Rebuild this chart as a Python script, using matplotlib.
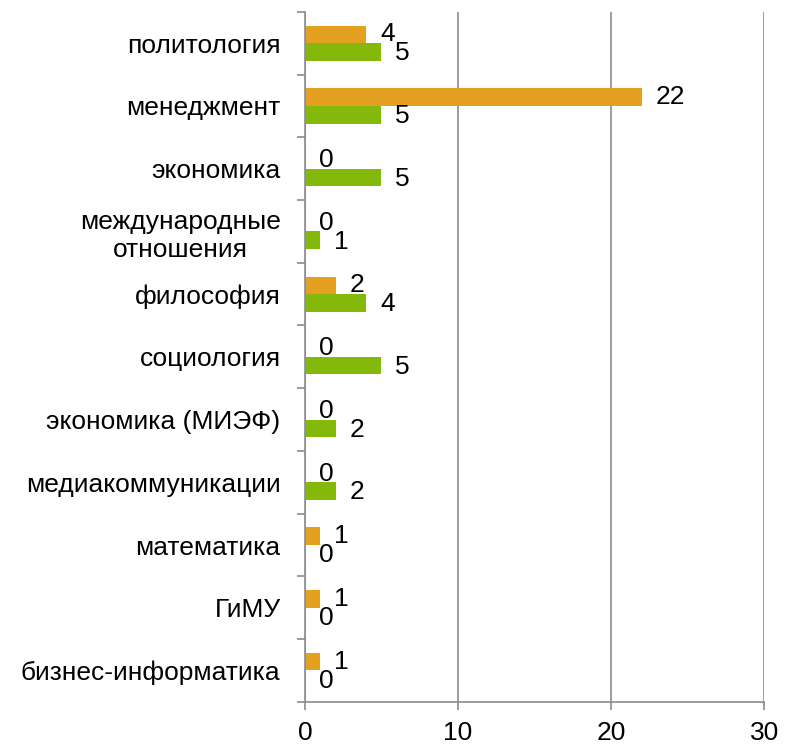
import numpy as np
import matplotlib
matplotlib.use("Agg")
import matplotlib.pyplot as plt

plt.rcParams["font.family"] = ["Liberation Sans", "DejaVu Sans"]

# Categories, top to bottom
categories = [
    "политология", "менеджмент", "экономика", "международные\nотношения",
    "философия", "социология", "экономика (МИЭФ)", "медиакоммуникации",
    "математика", "ГиМУ", "бизнес-информатика",
]
orange_vals = [4, 22, 0, 0, 2, 0, 0, 0, 1, 1, 1]
green_vals = [5, 5, 5, 1, 4, 5, 2, 2, 0, 0, 0]

orange = "#E4A021"
green = "#84B80B"
grey = "#8C8C8C"
fs = 19

fig = plt.figure(figsize=(7.92, 7.45), dpi=100)
ax = fig.add_axes([0.385, 0.058, 0.580, 0.926])

n = len(categories)
y = np.arange(n)
h = 0.28
bo = ax.barh(y - h / 2, orange_vals, height=h, color=orange)
bg = ax.barh(y + h / 2, green_vals, height=h, color=green)

for bars, vals, dy in ((bo, orange_vals, 0), (bg, green_vals, -1)):
    for b, v in zip(bars, vals):
        ax.annotate(str(v), (v, b.get_y() + b.get_height() / 2),
                    xytext=(10, dy), textcoords="offset points",
                    ha="left", va="center", fontsize=fs, color="black")

ax.set_ylim(n - 0.5, -0.5)
ax.set_xlim(0, 30)
ax.set_xticks([0, 10, 20, 30])
ax.xaxis.grid(True, color=grey, linewidth=1.2)
ax.set_axisbelow(True)

# category boundary ticks (major), labels at centres (minor)
ax.set_yticks(np.arange(-0.5, n, 1))
ax.set_yticklabels([])
ax.set_yticks(y, minor=True)
ax.set_yticklabels(categories, minor=True, fontsize=fs, ha="right",
                   multialignment="center")
ax.tick_params(axis="y", which="minor", length=0, pad=17.5)
ax.tick_params(axis="y", which="major", length=6, width=1.2, color=grey)
ax.tick_params(axis="x", length=6, width=1.2, color=grey, labelsize=fs, pad=8)

for s in ("top", "right"):
    ax.spines[s].set_visible(False)
for s in ("left", "bottom"):
    ax.spines[s].set_color(grey)
    ax.spines[s].set_linewidth(1.2)

fig.savefig("out.png", dpi=100)
